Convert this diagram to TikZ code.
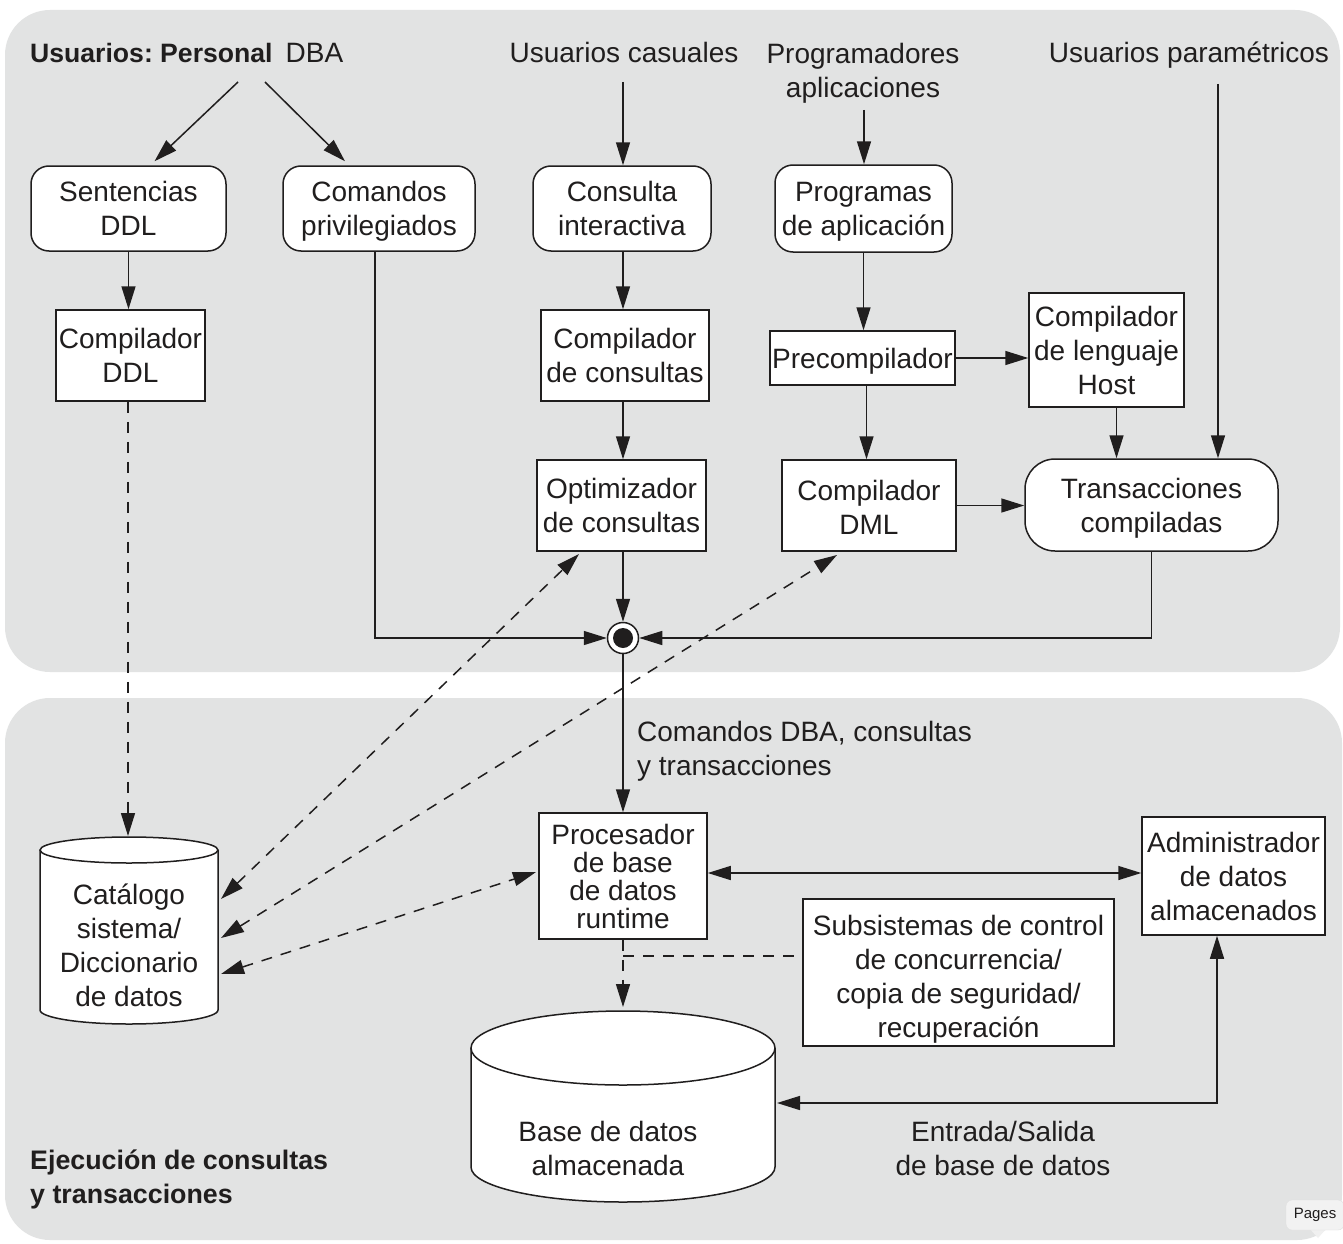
\documentclass[tikz,border=0pt]{standalone}
\usepackage{fontspec}
\setmainfont{Liberation Sans}
\usetikzlibrary{arrows.meta,calc}
\definecolor{panel}{RGB}{226,227,227}
\definecolor{ink}{RGB}{32,30,30}
\frenchspacing
\begin{document}
\begin{tikzpicture}[x=1pt,y=-1pt,
  font=\fontsize{28}{34}\selectfont,
  every node/.style={text=ink},
  line/.style={draw=ink, line width=1.5pt},
  arr/.style={line, -{Triangle[length=23pt,width=14pt]}},
  darr/.style={line, {Triangle[length=23pt,width=14pt]}-{Triangle[length=23pt,width=14pt]}},
  dsh/.style={dash pattern=on 11pt off 9pt},
  box/.style={draw=ink, line width=1.5pt, fill=white, align=center, inner sep=0pt},
  rbox/.style={box, rounded corners=18pt},
  lbl/.style={inner sep=0pt, align=center},
]
\useasboundingbox (0,0) rectangle (1343,1244);
\fill[white] (0,0) rectangle (1343,1244);
% panels
\fill[panel, rounded corners=45pt] (5,10) rectangle (1340,672);
\fill[panel, rounded corners=45pt] (5,698) rectangle (1342,1240);

% top labels
\node[lbl, anchor=base west] (dba) at (30,63) {{\fontsize{26.6}{34}\selectfont\bfseries Usuarios: Personal}\hspace{13pt}DBA};
\node[lbl, anchor=base] (cas) at (624,63) {Usuarios casuales};
\node[lbl] (progu) at (863,70) {Programadores\\\smash{aplicaciones}};
\node[lbl, anchor=base] (par) at (1189,63) {Usuarios paramétricos};

% top boxes
\node[rbox, minimum width=195, minimum height=85] (sddl) at (128.5,208.5) {Sentencias\\DDL};
\node[rbox, minimum width=192, minimum height=85] (cpriv) at (379,208.5) {Comandos\\\smash{privilegiados}};
\node[rbox, minimum width=178, minimum height=85] (cint) at (622,208.5) {Consulta\\interactiva};
\node[rbox, minimum width=177, minimum height=87] (prog) at (863.5,208.5) {Programas\\\smash{de aplicación}};
\node[box, minimum width=149, minimum height=91] (cddl) at (130.5,355.5) {Compilador\\DDL};
\node[box, minimum width=168, minimum height=91] (ccons) at (625,355.5) {Compilador\\de consultas};
\node[box, text depth=0pt, minimum width=185, minimum height=54] (prec) at (862.5,358) {Precompilador};
\node[box, minimum width=155, minimum height=114] (host) at (1106.5,350) {Compilador\\de lenguaje\\Host};
\node[box, minimum width=169, minimum height=91] (opt) at (621.5,505.5) {Optimizador\\de consultas};
\node[box, minimum width=174, minimum height=91] (dml) at (869,505.5) {\rule{0pt}{24pt}Compilador\\DML};
\node[box, rounded corners=30pt, minimum width=253, minimum height=92] (trans) at (1151.5,505) {Transacciones\\\smash{compiladas}};

% junction
\node[circle, draw=ink, fill=white, line width=1.5pt, minimum size=31pt, inner sep=0pt] (jn) at (623,638) {};
\fill[ink] (jn.center) circle (10pt);

% bottom boxes
\node[box, font=\fontsize{28}{28}\selectfont, minimum width=168, minimum height=126] (proc) at (623,876) {Procesador\\de base\\de datos\\runtime};
\node[box, minimum width=183, minimum height=118] (adm) at (1233.5,876) {Administrador\\de datos\\almacenados};
\node[box, minimum width=311, minimum height=147] (subs) at (958.5,972.5) {\rule{0pt}{28pt}Subsistemas de control\\de concurrencia/\\copia de seguridad/\\\smash{recuperación}};

% catalog cylinder
\fill[white] (40,850) -- (40,1010) .. controls (40,1017.7) and (79.8,1024) .. (129,1024)
  .. controls (178.2,1024) and (218,1017.7) .. (218,1010) -- (218,850) -- cycle;
\draw[line] (40,850) -- (40,1010) .. controls (40,1017.7) and (79.8,1024) .. (129,1024)
  .. controls (178.2,1024) and (218,1017.7) .. (218,1010) -- (218,850);
\draw[line, fill=white] (129,850) ellipse [x radius=89pt, y radius=13pt];
\node[lbl] (cat) at (129,945) {Catálogo\\sistema/\\Diccionario\\de datos};

% stored database cylinder
\fill[white] (471,1048) -- (471,1167) .. controls (471,1186.3) and (539,1202) .. (623,1202)
  .. controls (707,1202) and (775,1186.3) .. (775,1167) -- (775,1048) -- cycle;
\draw[line] (471,1048) -- (471,1167) .. controls (471,1186.3) and (539,1202) .. (623,1202)
  .. controls (707,1202) and (775,1186.3) .. (775,1167) -- (775,1048);
\draw[line, fill=white] (623,1048) ellipse [x radius=152pt, y radius=37pt];
\node[lbl] (db) at (608,1148) {Base de datos\\almacenada};

% other labels
\node[lbl, anchor=north west, align=left] (cmdl) at (637,721) {Comandos DBA, consultas\\y transacciones};
\node[lbl] (io) at (1003,1148) {Entrada/Salida\\de base de datos};
\node[lbl, anchor=north west, align=left, font=\fontsize{26.8}{34}\selectfont\bfseries] (ejec) at (30,1150) {Ejecución de consultas\\y transacciones};

% Pages tab
\fill[black!6] (1310,1229) -- (1318,1238) -- (1326,1229) -- cycle;
\node[draw=black!12, fill=black!5, rounded corners=6pt, inner sep=0pt, minimum width=58pt, minimum height=30pt,
  font=\fontsize{15}{17}\selectfont] (pages) at (1315,1215) {Pages};

% coordinates
\coordinate (dbaA) at (238,82);
\coordinate (dbaB) at (265,82);
\coordinate (casS) at (623,82);
\coordinate (progS) at (864,110);
\coordinate (parS) at (1218,84);
\coordinate (hs) at ($(host.south)+(10,0)$);
\coordinate (ps) at ($(prec.south)+(4,0)$);
\coordinate (cattop) at (128,836);
\coordinate (optd) at (579,554);
\coordinate (dmld) at (837,555);
\coordinate (procd) at (536,872);
\coordinate (cat1) at (221,899);
\coordinate (cat2) at (221,938);
\coordinate (cat3) at (221,974);
\coordinate (tap) at (623,956);
\coordinate (dbtop) at (623,1007);
\coordinate (admS) at ($(adm.south)+(-16.5,0)$);
\coordinate (dbr) at (777,1103);

% connectors (top)
\draw[arr] (dbaA) -- ($(sddl.north)+(26,-4)$);
\draw[arr] (dbaB) -- ($(cpriv.north)+(-34,-4)$);
\draw[arr] (casS) -- (casS |- cint.north);
\draw[arr] (progS) -- (progS |- prog.north);
\draw[arr] (parS) -- (parS |- trans.north);
\draw[arr] (sddl.south) -- (sddl.south |- cddl.north);
\draw[arr] (cint.south -| jn.center) -- (ccons.north -| jn.center);
\draw[arr] (ccons.south -| jn.center) -- (opt.north -| jn.center);
\draw[arr] (prog.south) -- (prog.south |- prec.north);
\draw[arr] (ps) -- (ps |- dml.north);
\draw[arr] (prec.east) -- (prec.east -| host.west);
\draw[arr] (hs) -- (hs |- trans.north);
\draw[arr] (dml.east) -- (dml.east -| trans.west);
\draw[arr] (opt.south -| jn.center) -- (jn.north);
\draw[arr] ($(cpriv.south)+(-4,0)$) |- (jn.west);
\draw[arr] (trans.south) |- (jn.east);
\draw[arr] (jn.south) -- (proc.north);

% dashed connectors
\draw[line, dsh, -{Triangle[length=23pt,width=14pt]}] (cddl.south -| cattop) -- (cattop);
\draw[darr, dsh] (cat1) -- (optd);
\draw[darr, dsh] (cat2) -- (dmld);
\draw[darr, dsh] (cat3) -- (procd);
\draw[line, dsh, -{Triangle[length=23pt,width=14pt]}] (proc.south -| tap) -- (dbtop);
\draw[line, dsh] (tap) -- (tap -| subs.west);

% bottom solid connectors
\draw[darr] ($(proc.east)+(0,-3)$) -- ($(adm.west)+(0,-3)$);
\draw[darr] (admS) |- (dbr);
\end{tikzpicture}
\end{document}
